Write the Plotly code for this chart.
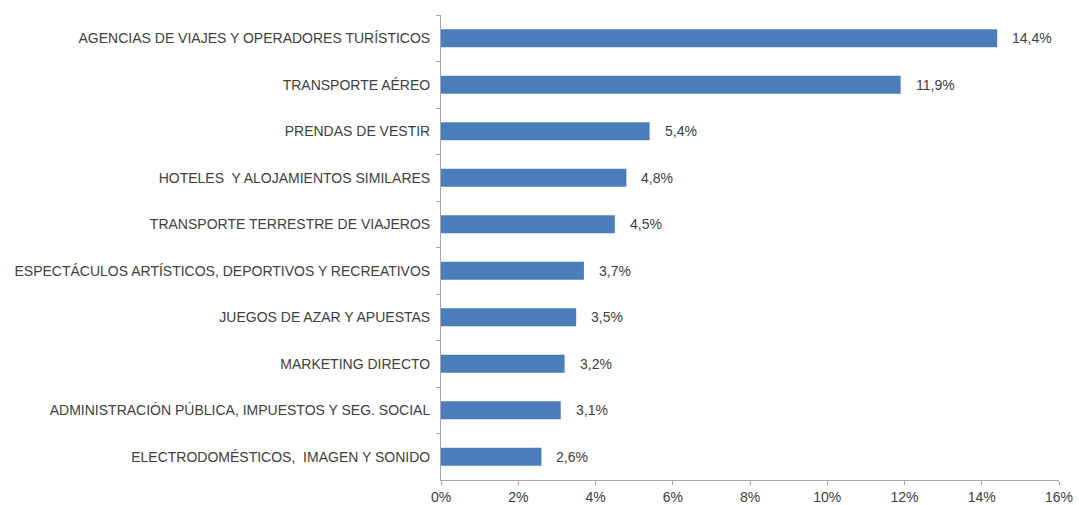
import plotly.graph_objects as go

categories = [
    "AGENCIAS DE VIAJES Y OPERADORES TURÍSTICOS",
    "TRANSPORTE AÉREO",
    "PRENDAS DE VESTIR",
    "HOTELES  Y ALOJAMIENTOS SIMILARES",
    "TRANSPORTE TERRESTRE DE VIAJEROS",
    "ESPECTÁCULOS ARTÍSTICOS, DEPORTIVOS Y RECREATIVOS",
    "JUEGOS DE AZAR Y APUESTAS",
    "MARKETING DIRECTO",
    "ADMINISTRACIÓN PÚBLICA, IMPUESTOS Y SEG. SOCIAL",
    "ELECTRODOMÉSTICOS,  IMAGEN Y SONIDO",
]
values = [14.4, 11.9, 5.4, 4.8, 4.5, 3.7, 3.5, 3.2, 3.1, 2.6]
x_ticks = [0, 2, 4, 6, 8, 10, 12, 14, 16]

bar_color = "#4a7ebb"
text_color = "#404040"
axis_color = "#a6a6a6"
font_family = "Liberation Sans, Arial, sans-serif"
font_size = 14

fig = go.Figure(
    go.Bar(
        x=values,
        y=categories,
        orientation="h",
        marker=dict(color=bar_color, line=dict(width=0)),
        hoverinfo="skip",
    )
)

# value labels to the right of each bar
for v, c in zip(values, categories):
    fig.add_annotation(
        x=v, y=c, xref="x", yref="y",
        text=f"{v:.1f}%".replace(".", ","),
        showarrow=False, xanchor="left", xshift=13,
        font=dict(family=font_family, size=font_size, color=text_color),
    )

fig.update_layout(
    width=1079, height=505,
    margin=dict(l=441, r=20, t=15, b=25),
    paper_bgcolor="white", plot_bgcolor="white",
    bargap=0.61,
    showlegend=False,
    separators=",.",
    font=dict(family=font_family, size=font_size, color=text_color),
)

fig.update_xaxes(
    range=[0, 16],
    tickvals=x_ticks,
    ticktext=[f"{t}%" for t in x_ticks],
    showgrid=False, zeroline=False,
    showline=True, linecolor=axis_color, linewidth=1,
    ticks="outside", ticklen=4, tickcolor=axis_color,
    tickfont=dict(family=font_family, size=font_size, color=text_color),
    automargin=False,
)

fig.update_yaxes(
    type="category",
    categoryorder="array", categoryarray=categories,
    autorange="reversed",
    showgrid=False, zeroline=False,
    showline=True, linecolor=axis_color, linewidth=1,
    ticks="outside", ticklen=4, tickcolor=axis_color,
    tickson="boundaries",
    ticklabelstandoff=7,
    tickfont=dict(family=font_family, size=font_size, color=text_color),
    automargin=False,
)

fig.write_html("out.html")
